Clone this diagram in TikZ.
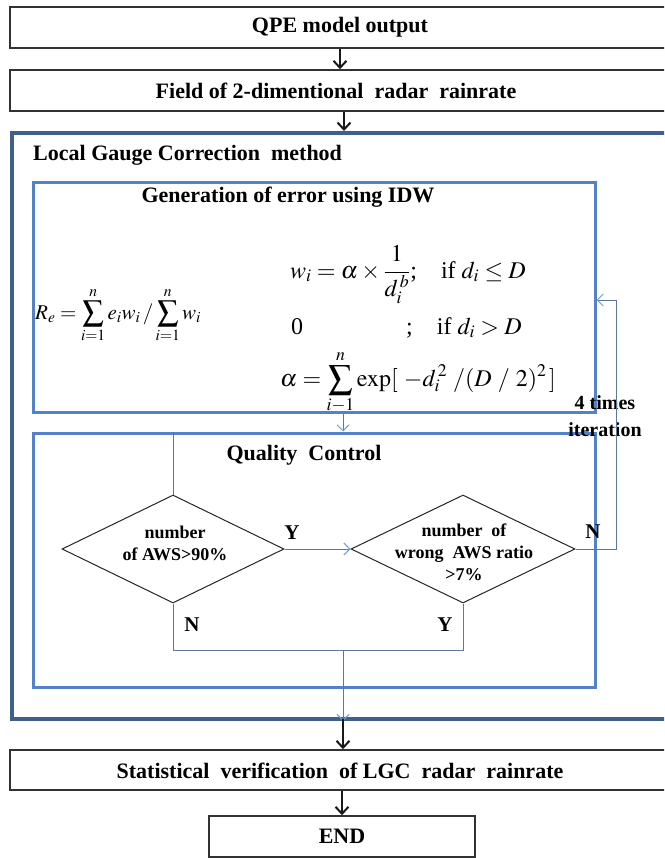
\documentclass[tikz,border=0pt]{standalone}
\usepackage{amsmath}
\usepackage{mathptmx}
\usepackage{fontspec}
\setmainfont{Liberation Serif}
\usetikzlibrary{shapes.geometric,arrows.meta}
\definecolor{outerblue}{RGB}{62,96,138}
\definecolor{innerblue}{RGB}{84,130,200}
\definecolor{linkblue}{RGB}{95,118,158}
\definecolor{tipblue}{RGB}{110,155,215}
\definecolor{boxline}{RGB}{50,50,50}
\begin{document}
\begin{tikzpicture}[x=1pt,y=-1pt,
  plainbox/.style={draw=boxline,line width=1.5pt,rectangle,inner sep=0pt,fill=white},
  outerframe/.style={draw=outerblue,line width=4pt,rectangle,inner sep=0pt},
  innerframe/.style={draw=innerblue,line width=3pt,rectangle,inner sep=0pt},
  headtext/.style={font=\fontsize{22}{26}\selectfont\bfseries,inner sep=0pt},
  dectext/.style={font=\fontsize{18}{22}\selectfont\bfseries,align=center},
  yntext/.style={font=\fontsize{21}{24}\selectfont\bfseries,inner sep=0pt},
  decision/.style={draw=black!85,line width=1pt,diamond,inner sep=0pt,aspect=2.05},
  mainarrow/.style={draw=black!90,line width=2pt,-{Straight Barb[length=7pt,width=13pt,line width=2pt]}},
  thinlink/.style={draw=linkblue,line width=1pt},
  thinarrow/.style={draw=linkblue,line width=1pt,-{Straight Barb[length=6pt,width=12pt,line width=1pt,color=tipblue]}},
  mathtext/.style={font=\fontsize{24}{28}\selectfont,inner sep=0pt},
  smallmath/.style={font=\fontsize{21}{25}\selectfont,inner sep=0pt}
]
\useasboundingbox (0,0) rectangle (664,858);
\clip (0,0) rectangle (664,858);
\fill[white] (0,0) rectangle (664,858);

% top boxes
\node[plainbox,minimum width=660,minimum height=41] (qpe) at (340,27.5) {};
\node[headtext] (qpet) at (340,27.5) {QPE model output};
\node[plainbox,minimum width=660,minimum height=41] (field) at (340,90.5) {};
\node[headtext] (fieldt) at (336,90.5) {Field of 2-dimentional\ \ radar\ \ rainrate};

% LGC frame
\node[outerframe,minimum width=688,minimum height=586] (lgc) at (356,426) {};
\node[headtext,anchor=west] (lgct) at (33,155) {Local Gauge Correction\ \ method};

% IDW box
\node[innerframe,minimum width=562,minimum height=229] (idw) at (314,297.5) {};
\node[headtext] (idwt) at (288,197) {Generation of error using IDW};

\node[smallmath,anchor=base west] (re) at (35,319)
  {$R_e = \displaystyle\sum_{i=1}^{n} e_i w_i \,/ \sum_{i=1}^{n} w_i$};
\node[mathtext,anchor=base west] (wdef) at (290,278)
  {$w_i = \alpha \times \dfrac{1}{d_i^{\,b}}$;\quad if $d_i \le D$};
\node[mathtext,anchor=base west] (zero) at (291,334) {0};
\node[mathtext,anchor=base west] (zerocond) at (406,334) {;\quad if $d_i > D$};
\node[mathtext,anchor=base west] (alpha) at (280,386)
  {$\alpha = \displaystyle\sum_{i-1}^{n} \exp[\ -d_i^{\,2}\ /(D\ /\ 2)^2\,]$};

% QC box
\node[innerframe,minimum width=562,minimum height=254] (qc) at (314,560) {};
\node[headtext] (qct) at (304,455) {Quality\ \ Control};

\node[decision,minimum width=222,minimum height=108] (d1) at (173,549) {};
\node[dectext] (d1t) at (175,543) {number\\of AWS>90\%};
\node[decision,minimum width=224,minimum height=108] (d2) at (463,549) {};
\node[dectext] (d2t) at (464,552) {number\ \ of\\wrong\ \ AWS ratio\\>7\%};

\node[yntext] (ylab1) at (292,533) {Y};
\node[yntext] (nlab2) at (593,532) {N};
\node[yntext] (nlab1) at (192,625) {N};
\node[yntext] (ylab2) at (445,625) {Y};

\node[font=\fontsize{20}{27}\selectfont\bfseries,align=center,inner sep=0pt] (iter) at (605,416) {4 times\\iteration};

% bottom boxes
\node[plainbox,minimum width=660,minimum height=40] (stat) at (340,770) {};
\node[headtext] (statt) at (340,771) {Statistical\ \ verification\ \ of LGC\ \ radar\ \ rainrate};
\node[plainbox,minimum width=266,minimum height=41] (endb) at (342,836.5) {};
\node[headtext] (endt) at (342,836.5) {END};

% coordinates
\coordinate (fb) at (616,300);
\coordinate (join) at (343,650);
\coordinate (lgcout) at (343,719);

% connectors
\draw[mainarrow] (qpe.south) -- (field.north);
\draw[mainarrow] ([xshift=4]field.south) -- ([xshift=4]field.south |- lgc.north);
\draw[thinarrow] ([xshift=29]idw.south) -- ([xshift=29]qc.north);
\draw[thinlink] (d1.north |- qc.north) -- (d1.north);
\draw[thinarrow] (d1.east) -- (d2.west);
\draw[thinlink] (d2.east) -| (fb);
\draw[thinarrow] (fb) -- (fb -| idw.east);
\draw[thinlink] (d1.south) |- (join);
\draw[thinlink] (d2.south) |- (join);
\draw[thinarrow] (join) -- ([yshift=-2]lgcout);
\draw[mainarrow] (lgcout) -- (lgcout |- stat.north);
\draw[mainarrow] (stat.south -| endb.north) -- (endb.north);
\end{tikzpicture}
\end{document}
